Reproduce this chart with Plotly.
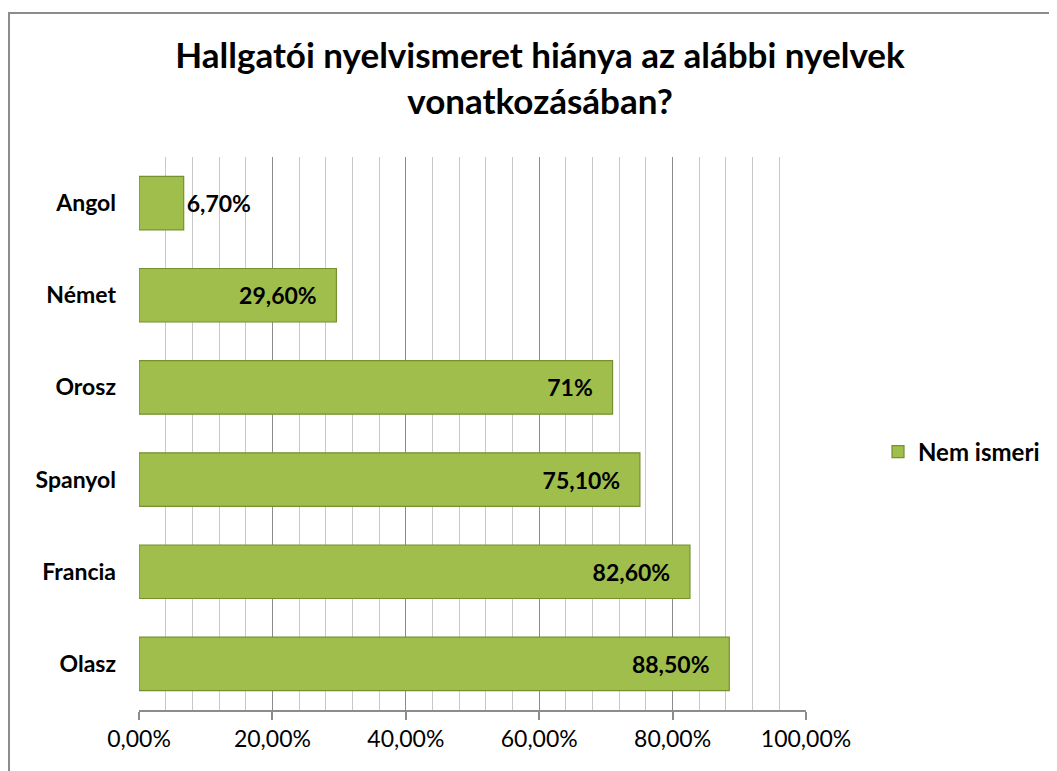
import plotly.graph_objects as go

categories = ["Olasz", "Francia", "Spanyol", "Orosz", "Német", "Angol"]
values = [88.5, 82.6, 75.1, 71.0, 29.6, 6.7]
value_labels = ["88,50%", "82,60%", "75,10%", "71%", "29,60%", "6,70%"]
label_positions = ["inside", "inside", "inside", "inside", "inside", "outside"]
series_name = "Nem ismeri"
title_text = "Hallgatói nyelvismeret hiánya az alábbi nyelvek<br>vonatkozásában?"

# page body has an 8px margin, so figure coords = screen coords - 8
OFF = 8
W, H = 1057 - OFF, 771 - OFF
X0, X1, Y0, Y1 = 139 - OFF, 806 - OFF, 157 - OFF, 710 - OFF
L, R, T, B = X0, W - X1, Y0, H - Y1
pw, ph = X1 - X0, Y1 - Y0

FONT = "Lato"

fig = go.Figure()
fig.add_trace(go.Bar(
    y=categories, x=values, orientation="h", name=series_name,
    text=value_labels, textposition=label_positions, insidetextanchor="end",
    texttemplate="%{text}\u00a0\u00a0\u00a0",
    textangle=0, constraintext="none", cliponaxis=False,
    textfont=dict(family=FONT, size=23, color="black", weight="bold"),
    marker=dict(color="#9fbe4c", line=dict(color="#74902f", width=1.2)),
    showlegend=True,
))

fig.update_layout(
    width=W, height=H,
    margin=dict(l=L, r=R, t=T, b=B),
    paper_bgcolor="white", plot_bgcolor="white",
    separators=", ",
    bargap=0.42,
    font=dict(family=FONT, color="black"),
    title=dict(text=title_text, x=(540 - OFF) / W, xref="container", xanchor="center",
               y=1 - (68 - OFF) / H, yref="container", yanchor="middle",
               font=dict(family=FONT, size=35, weight="bold", color="black")),
    xaxis=dict(range=[0, 100], dtick=20, tick0=0, tickformat=".2f", ticksuffix="%",
               showgrid=True, gridcolor="#8c8c8c", gridwidth=1.3,
               minor=dict(dtick=4, tick0=0, showgrid=True, gridcolor="#c8c8c8", gridwidth=1),
               showline=True, linecolor="#8c8c8c", linewidth=1.5,
               ticks="outside", ticklen=8, tickcolor="#8c8c8c", tickwidth=1.5,
               tickfont=dict(family=FONT, size=23, color="black"),
               zeroline=False, fixedrange=True),
    yaxis=dict(showgrid=False, showline=False, ticks="", ticklabelstandoff=22,
               tickfont=dict(family=FONT, size=23, color="black", weight="bold"),
               fixedrange=True),
    legend=dict(x=(870 - X0) / pw, y=(Y1 - (452 - OFF)) / ph, xanchor="left", yanchor="middle",
                font=dict(family=FONT, size=24, weight="bold", color="black"),
                bgcolor="rgba(0,0,0,0)", itemwidth=30),
)

fig.add_shape(type="rect", xref="paper", yref="paper",
              x0=(1 - X0) / pw, x1=(W + 20 - X0) / pw,
              y0=(Y1 - (H + 20)) / ph, y1=(Y1 - 5) / ph,
              line=dict(color="#8c8c8c", width=2), fillcolor="rgba(0,0,0,0)", layer="below")

fig.write_html("out.html")
